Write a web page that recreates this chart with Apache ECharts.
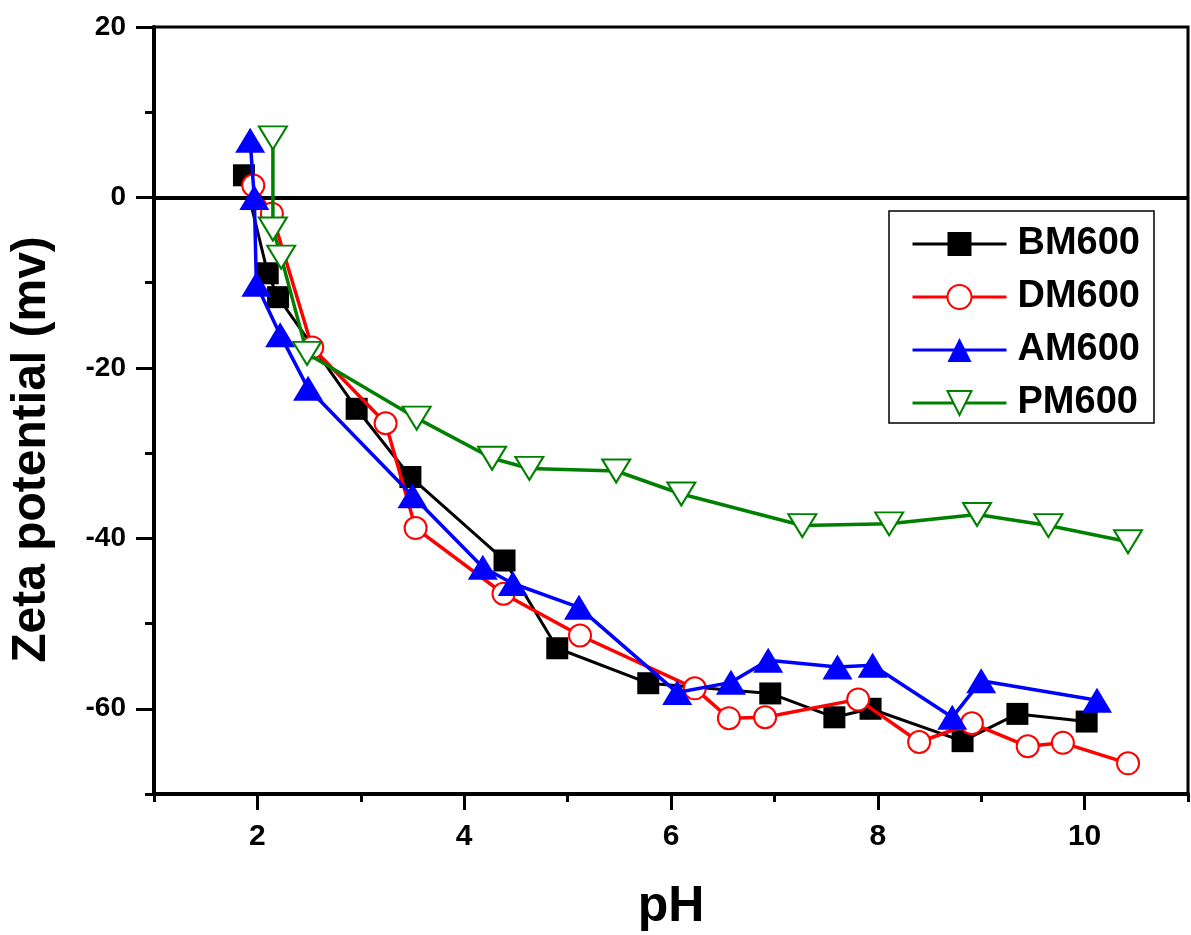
<!DOCTYPE html>
<html>
<head>
<meta charset="utf-8">
<script src="https://cdn.jsdelivr.net/npm/echarts@6/dist/echarts.min.js"></script>
<style>
html,body{margin:0;padding:0;background:#fff;}
#chart{width:1191px;height:935px;}
</style>
</head>
<body>
<div id="chart"></div>
<script>
// ---- Data ----
const seriesNames = ['BM600', 'DM600', 'AM600', 'PM600'];

const phBM = [1.87, 2.10, 2.20, 2.96, 3.48, 4.39, 4.90, 5.78, 6.96, 7.58, 7.93, 8.82, 9.35, 10.02];
const zetaBM = [2.6, -8.9, -11.7, -24.8, -32.8, -42.6, -52.9, -57.0, -58.2, -61.0, -60.0, -63.8, -60.6, -61.5];

const phDM = [1.96, 2.14, 2.53, 3.24, 3.53, 4.38, 5.12, 6.23, 6.56, 6.91, 7.81, 8.40, 8.91, 9.45, 9.79, 10.42];
const zetaDM = [1.4, -1.9, -17.6, -26.5, -38.8, -46.5, -51.4, -57.6, -61.1, -61.0, -58.9, -63.9, -61.7, -64.4, -64.0, -66.4];

const phAM = [1.93, 1.97, 1.99, 2.22, 2.49, 3.50, 4.18, 4.47, 5.11, 6.06, 6.58, 6.94, 7.61, 7.95, 8.72, 9.00, 10.12];
const zetaAM = [6.7, 0.0, -10.2, -16.1, -22.4, -35.0, -43.4, -45.3, -48.1, -58.1, -56.9, -54.3, -55.1, -54.9, -61.0, -56.7, -59.0];

const phPM = [2.15, 2.15, 2.23, 2.48, 3.54, 4.27, 4.63, 5.47, 6.10, 7.27, 8.11, 8.96, 9.65, 10.42];
const zetaPM = [7.0, -3.7, -7.0, -18.3, -25.9, -30.6, -31.8, -32.1, -34.8, -38.5, -38.3, -37.2, -38.5, -40.4];

const xMajorTicks = [2, 4, 6, 8, 10];
const xMinorTicks = [1, 3, 5, 7, 9, 11];
const yMajorTicks = [20, 0, -20, -40, -60];
const yMinorTicks = [10, -10, -30, -50, -70];

const zip = (xs, ys) => xs.map((x, i) => [x, ys[i]]);

const chart = echarts.init(document.getElementById('chart'), null, {renderer: 'canvas'});

const axisFont = 'Liberation Sans, Arial, sans-serif';

const option = {
  backgroundColor: '#ffffff',
  animation: false,
  grid: {
    left: 154, right: 3, top: 27, bottom: 141,
    show: true, borderColor: '#000', borderWidth: 3, backgroundColor: 'transparent',
    outerBoundsMode: 'none'
  },
  legend: {
    data: seriesNames,
    orient: 'vertical',
    left: 889, top: 211,
    itemWidth: 94, itemHeight: 30, itemGap: 15,
    padding: [14, 14, 1, 22],
    borderColor: '#000', borderWidth: 1.5,
    backgroundColor: '#fff',
    lineStyle: {width: 3},
    textStyle: {fontFamily: axisFont, fontWeight: 'bold', fontSize: 38, color: '#000', lineHeight: 31, padding: [0, 0, 0, 6]}
  },
  xAxis: [{
    type: 'value', min: 1, max: 11, interval: 1,
    name: 'pH', nameLocation: 'middle', nameGap: 88,
    nameTextStyle: {fontFamily: axisFont, fontWeight: 'bold', fontSize: 50, color: '#000'},
    axisLine: {show: true, onZero: false, lineStyle: {color: '#000', width: 4}},
    axisTick: {show: true, customValues: xMajorTicks, length: 16, lineStyle: {color: '#000', width: 3}},
    axisLabel: {show: true, customValues: xMajorTicks, margin: 28,
      fontFamily: 'Liberation Sans Narrow, Liberation Sans, Arial, sans-serif', fontWeight: 'bold', fontSize: 30, color: '#000'},
    splitLine: {show: false}
  }, {
    type: 'value', min: 1, max: 11, interval: 1, position: 'bottom',
    axisLine: {show: false, onZero: false},
    axisTick: {show: true, customValues: xMinorTicks, length: 8, lineStyle: {color: '#000', width: 3}},
    axisLabel: {show: false},
    splitLine: {show: false}
  }],
  yAxis: [{
    type: 'value', min: -70, max: 20, interval: 10,
    name: 'Zeta potential (mv)', nameLocation: 'middle', nameGap: 98,
    nameTextStyle: {fontFamily: axisFont, fontWeight: 'bold', fontSize: 48, color: '#000', padding: [0, 78, 0, 0]},
    axisLine: {show: true, onZero: false, lineStyle: {color: '#000', width: 4}},
    axisTick: {show: true, customValues: yMajorTicks, length: 18, lineStyle: {color: '#000', width: 3}},
    axisLabel: {show: true, customValues: yMajorTicks, margin: 28,
      fontFamily: axisFont, fontWeight: 'bold', fontSize: 28, color: '#000'},
    splitLine: {show: false}
  }, {
    type: 'value', min: -70, max: 20, interval: 10, position: 'left',
    axisLine: {show: false, onZero: false},
    axisTick: {show: true, customValues: yMinorTicks, length: 9, lineStyle: {color: '#000', width: 3}},
    axisLabel: {show: false},
    splitLine: {show: false}
  }],
  series: [{
    name: 'BM600', type: 'line', data: zip(phBM, zetaBM),
    symbol: 'rect', symbolSize: 22,
    lineStyle: {color: '#000', width: 3},
    itemStyle: {color: '#000'},
    markLine: {
      silent: true, symbol: 'none', label: {show: false},
      lineStyle: {color: '#000', width: 4, type: 'solid'},
      data: [{yAxis: 0}]
    },
    z: 3
  }, {
    name: 'DM600', type: 'line', data: zip(phDM, zetaDM),
    symbol: 'emptyCircle', symbolSize: 22,
    lineStyle: {color: '#ff0000', width: 3.5},
    itemStyle: {color: '#ff0000', borderWidth: 2},
    z: 4
  }, {
    name: 'AM600', type: 'line', data: zip(phAM, zetaAM),
    symbol: 'triangle', symbolSize: [30, 25],
    lineStyle: {color: '#0000ff', width: 3.5},
    itemStyle: {color: '#0000ff'},
    z: 5
  }, {
    name: 'PM600', type: 'line', data: zip(phPM, zetaPM),
    symbol: 'emptyTriangle', symbolSize: [28, 23], symbolRotate: 180,
    lineStyle: {color: '#008000', width: 3.5},
    itemStyle: {color: '#008000', borderWidth: 2},
    z: 6
  }]
};

chart.setOption(option);
</script>
</body>
</html>
